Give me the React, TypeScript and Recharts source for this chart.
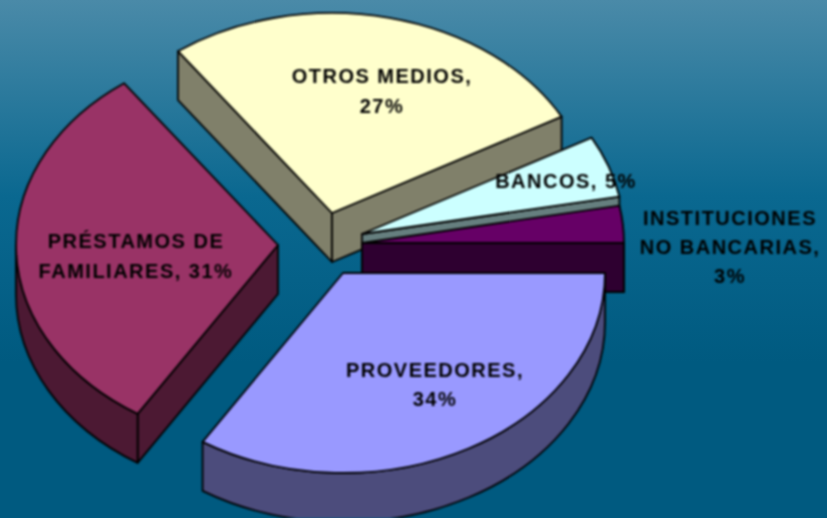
import { PieChart, Pie, Cell } from 'recharts';

const CATEGORIES = ['OTROS MEDIOS', 'BANCOS', 'INSTITUCIONES NO BANCARIAS', 'PROVEEDORES', 'PRÉSTAMOS DE FAMILIARES'];
const VALUES = [27, 5, 3, 34, 31];
const TOP_COLORS = ['#FFFFCC', '#CCFFFF', '#660066', '#9999FF', '#993366'];
const WALL_COLORS = ['#80806A', '#667F7F', '#2E0030', '#4C4C7C', '#4C1933'];
const LABEL_LINES = [
    ['OTROS MEDIOS,', '27%'],
    ['BANCOS, 5%'],
    ['INSTITUCIONES', 'NO BANCARIAS,', '3%'],
    ['PROVEEDORES,', '34%'],
    ['PRÉSTAMOS DE', 'FAMILIARES, 31%'],
];

// how far each slice is pulled out of the pie, in px
const EXPLODE = [[-8, -32], [22, -11], [22, -2], [3, 28], [-62, 0]];
const LABEL_POS = [[382, 76], [566, 181], [730, 218], [435, 370], [136, 241]];
const LINE_GAPS = [30, 30, 29, 29, 30];

const SQUASH = 200 / 262;
const DEPTH = 49;

const data = CATEGORIES.map((name, i) => ({ name, value: VALUES[i] }));

function Slice3D(props: any) {
    const { cx, cy, outerRadius, startAngle, endAngle, index } = props;
    const rx = outerRadius;
    const ry = outerRadius * SQUASH;
    const ax = cx + EXPLODE[index][0];
    const ay = cy + EXPLODE[index][1];
    const hi = Math.max(startAngle, endAngle);
    const lo = Math.min(startAngle, endAngle);
    const pt = (deg: number, drop = 0) => {
        const r = (deg * Math.PI) / 180;
        return `${ax + rx * Math.cos(r)} ${ay - ry * Math.sin(r) + drop}`;
    };
    const cos = (deg: number) => Math.cos((deg * Math.PI) / 180);
    const wall = WALL_COLORS[index];
    const edge = { stroke: '#000', strokeWidth: 1.8, strokeLinejoin: 'round' as const };

    const radial = (deg: number) =>
        `M${ax} ${ay} L${pt(deg)} L${pt(deg, DEPTH)} L${ax} ${ay + DEPTH} Z`;

    // only the lower half of the rim faces the viewer
    const rimHi = Math.min(hi, 0);
    const rimLo = Math.max(lo, -180);
    const large = hi - lo > 180 ? 1 : 0;

    return (
        <g>
            {cos(hi) < 0 && <path d={radial(hi)} fill={wall} {...edge} />}
            {cos(lo) > 0 && <path d={radial(lo)} fill={wall} {...edge} />}
            {rimHi > rimLo && (
                <path
                    d={`M${pt(rimHi)} A${rx} ${ry} 0 0 1 ${pt(rimLo)} L${pt(rimLo, DEPTH)} A${rx} ${ry} 0 0 0 ${pt(rimHi, DEPTH)} Z`}
                    fill={wall}
                    {...edge}
                />
            )}
            <path
                d={`M${ax} ${ay} L${pt(hi)} A${rx} ${ry} 0 ${large} 1 ${pt(lo)} Z`}
                fill={TOP_COLORS[index]}
                {...edge}
            />
        </g>
    );
}

function SliceLabel(props: any) {
    const { index } = props;
    const [x, y] = LABEL_POS[index];
    return (
        <text
            x={x}
            y={y + 7}
            textAnchor="middle"
            fill="#000"
            fontFamily="Liberation Sans"
            fontWeight="bold"
            fontSize={20}
            letterSpacing={1.5}
        >
            {LABEL_LINES[index].map((line, i) => (
                <tspan key={line} x={x} dy={i === 0 ? 0 : LINE_GAPS[index]}>
                    {line}
                </tspan>
            ))}
        </text>
    );
}

export default function App() {
    return (
        <div
            style={{
                position: 'absolute',
                left: 0,
                top: 0,
                width: 827,
                height: 518,
                overflow: 'hidden',
                background: 'linear-gradient(180deg, #4A8AA8 0%, #0A6890 38%, #005A80 70%, #005A80 100%)',
            }}
        >
            <div style={{ filter: 'blur(1px)' }}>
                <PieChart width={827} height={518} margin={{ top: 0, right: 0, bottom: 0, left: 0 }}>
                    <Pie
                        data={data}
                        dataKey="value"
                        nameKey="name"
                        cx={340}
                        cy={245}
                        outerRadius={262}
                        startAngle={126}
                        endAngle={-234}
                        stroke="none"
                        shape={Slice3D}
                        label={SliceLabel}
                        labelLine={false}
                        isAnimationActive={false}
                    >
                        {data.map((entry, i) => (
                            <Cell key={entry.name} fill={TOP_COLORS[i]} />
                        ))}
                    </Pie>
                </PieChart>
            </div>
        </div>
    );
}
